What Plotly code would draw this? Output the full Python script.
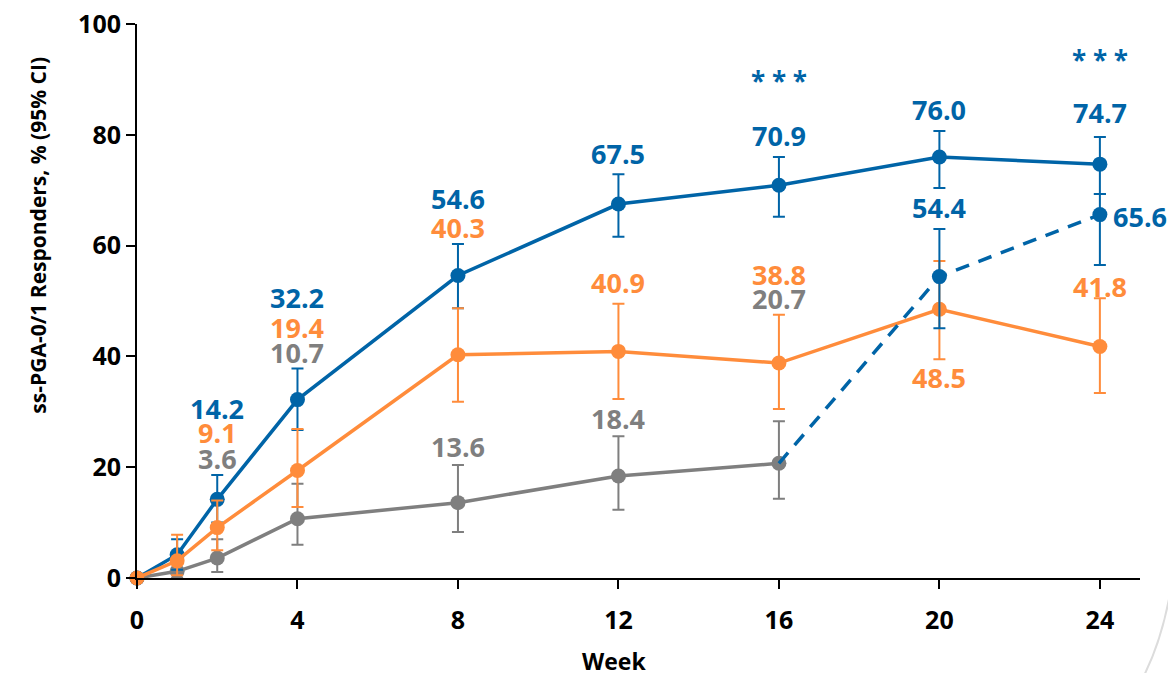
import plotly.graph_objects as go

# ---------------- data ----------------
weeks = [0, 1, 2, 4, 8, 12, 16, 20, 24]
active = [0, 4.2, 14.2, 32.2, 54.6, 67.5, 70.9, 76.0, 74.7]
active_lo = [0, 1.5, 10.0, 26.7, 48.7, 61.6, 65.2, 70.4, 69.3]
active_hi = [0, 7.0, 18.6, 37.8, 60.3, 72.9, 76.0, 80.7, 79.6]

orange = [0, 3.1, 9.1, 19.4, 40.3, 40.9, 38.8, 48.5, 41.8]
orange_lo = [0, 0.5, 5.0, 12.8, 31.8, 32.3, 30.5, 39.5, 33.4]
orange_hi = [0, 7.8, 14.0, 26.9, 48.7, 49.5, 47.5, 57.2, 50.5]

placebo_weeks = [0, 1, 2, 4, 8, 12, 16]
placebo = [0, 1.2, 3.6, 10.7, 13.6, 18.4, 20.7]
placebo_lo = [0, 0, 1.1, 6.0, 8.3, 12.3, 14.3]
placebo_hi = [0, 3.5, 7.0, 17.0, 20.4, 25.6, 28.3]

switch_weeks = [20, 24]
switch = [54.4, 65.6]
switch_lo = [45.1, 56.5]
switch_hi = [63.0, 69.3]

x_ticks = [0, 4, 8, 12, 16, 20, 24]
y_ticks = [0, 20, 40, 60, 80, 100]
star_weeks = [16, 24]

# ---------------- style ----------------
BLUE = "#0064A7"
ORANGE = "#FF8C3B"
GRAY = "#7F7F7F"
FONT = "Open Sans"

# label vertical offsets in px (up positive) for labelled weeks
lab_weeks = [2, 4, 8, 12, 16, 20, 24]
blue_shift = [91, 102, 77, 51, 50, 47, 52]
orange_shift = [95, 143, 127, 69, 89, -68, 60]
gray_lab_weeks = [2, 4, 8, 12, 16]
gray_shift = [100, 166, 56, 58, 165]
switch_shift = [(0, 69), (40, -2)]
star_shift = 104


def err(vals, lo, hi):
    return dict(type="data", symmetric=False,
                array=[h - v for v, h in zip(vals, hi)],
                arrayminus=[v - l for v, l in zip(vals, lo)],
                thickness=2, width=6)


fig = go.Figure()

fig.add_trace(go.Scatter(
    x=placebo_weeks, y=placebo, mode="lines+markers",
    line=dict(color=GRAY, width=3.5), marker=dict(color=GRAY, size=15),
    error_y={**err(placebo, placebo_lo, placebo_hi), "color": GRAY},
    cliponaxis=False, showlegend=False))

fig.add_trace(go.Scatter(
    x=weeks, y=active, mode="lines+markers",
    line=dict(color=BLUE, width=3.5), marker=dict(color=BLUE, size=15),
    error_y={**err(active, active_lo, active_hi), "color": BLUE},
    cliponaxis=False, showlegend=False))

fig.add_trace(go.Scatter(
    x=weeks, y=orange, mode="lines+markers",
    line=dict(color=ORANGE, width=3.5), marker=dict(color=ORANGE, size=15),
    error_y={**err(orange, orange_lo, orange_hi), "color": ORANGE},
    cliponaxis=False, showlegend=False))

# dashed switch line starting from last placebo point
fig.add_trace(go.Scatter(
    x=[placebo_weeks[-1]] + switch_weeks, y=[placebo[-1]] + switch,
    mode="lines", line=dict(color=BLUE, width=3.5, dash="14px,10px"),
    cliponaxis=False, showlegend=False))
fig.add_trace(go.Scatter(
    x=switch_weeks, y=switch, mode="markers",
    marker=dict(color=BLUE, size=15),
    error_y={**err(switch, switch_lo, switch_hi), "color": BLUE},
    cliponaxis=False, showlegend=False))

ann = []
lab_font = lambda c: dict(family=FONT, size=27, color=c, weight="bold")
for w, s in zip(lab_weeks, blue_shift):
    v = active[weeks.index(w)]
    ann.append(dict(x=w, y=v, text=f"{v:.1f}", yshift=s, font=lab_font(BLUE)))
for w, s in zip(lab_weeks, orange_shift):
    v = orange[weeks.index(w)]
    ann.append(dict(x=w, y=v, text=f"{v:.1f}", yshift=s, font=lab_font(ORANGE)))
for w, s in zip(gray_lab_weeks, gray_shift):
    v = placebo[placebo_weeks.index(w)]
    ann.append(dict(x=w, y=v, text=f"{v:.1f}", yshift=s, font=lab_font(GRAY)))
for w, v, (xs, ys) in zip(switch_weeks, switch, switch_shift):
    ann.append(dict(x=w, y=v, text=f"{v:.1f}", xshift=xs, yshift=ys, font=lab_font(BLUE)))
for w in star_weeks:
    v = active[weeks.index(w)]
    ann.append(dict(x=w, y=v, text="* * *", yshift=star_shift,
                    font=dict(family=FONT, size=26, color=BLUE, weight="bold")))
for a in ann:
    a.update(showarrow=False, xanchor="center", yanchor="middle")

# axis titles
ann.append(dict(xref="paper", yref="paper", x=-0.0987, y=0.618,
                text="ss-PGA-0/1 Responders, % (95% CI)", textangle=-90,
                showarrow=False, xanchor="center", yanchor="middle",
                font=dict(family=FONT, size=21, color="black", weight="bold")))
ann.append(dict(xref="paper", yref="paper", x=0.476, y=-0.149,
                text="Week", showarrow=False, xanchor="center", yanchor="middle",
                font=dict(family=FONT, size=23, color="black", weight="bold")))

fig.update_layout(
    width=1160, height=665,
    margin=dict(l=129, r=28, t=16, b=95, autoexpand=False),
    paper_bgcolor="white", plot_bgcolor="white",
    annotations=ann,
    shapes=[dict(type="path", xref="paper", yref="paper",
                 path="M 1.0359 0.06 Q 1.03 -0.09 1.0 -0.19",
                 line=dict(color="#dcdcdc", width=2))],
    xaxis=dict(range=[0, 25], tickvals=x_ticks, showline=True, linecolor="black",
               linewidth=2, ticks="outside", ticklen=9, tickwidth=2,
               tickcolor="black", showgrid=False, zeroline=False,
               ticklabeloverflow="allow", automargin=False, ticklabelstandoff=10,
               tickfont=dict(family=FONT, size=25, color="black", weight="bold")),
    yaxis=dict(range=[0, 100], tickvals=y_ticks, showline=True, linecolor="black",
               linewidth=2, ticks="outside", ticklen=9, tickwidth=2,
               tickcolor="black", showgrid=False, zeroline=False,
               ticklabeloverflow="allow", automargin=False,
               tickfont=dict(family=FONT, size=25, color="black", weight="bold")),
)

fig.write_html("out.html")
